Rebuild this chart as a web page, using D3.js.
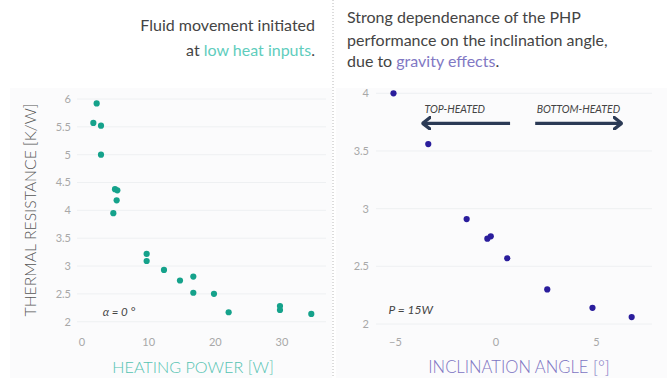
<!DOCTYPE html>
<html><head><meta charset="utf-8">
<script src="https://cdn.jsdelivr.net/npm/d3@7"></script>
<style>
body{margin:0;background:#fff;}
svg{display:block;font-family:Lato,"Open Sans",sans-serif;}
</style></head><body>
<svg id="c" width="667" height="378"></svg>
<script>
// Left panel: heating power [W] vs thermal resistance [K/W]
const powerW = [2.2,1.7,2.85,2.85,4.95,5.3,5.2,4.7,9.7,9.7,12.3,14.7,16.7,16.7,19.8,22.0,29.7,29.7,34.4];
const resistanceL = [5.92,5.57,5.52,5.0,4.38,4.36,4.18,3.95,3.22,3.09,2.93,2.74,2.81,2.52,2.50,2.17,2.28,2.21,2.14];
const leftXTicks = [0,10,20,30];
const leftYTicks = [2,2.5,3,3.5,4,4.5,5,5.5,6];
// Right panel: inclination angle [deg] vs thermal resistance
const angleDeg = [-5.1,-3.37,-1.46,-0.43,-0.26,0.56,2.55,4.8,6.75];
const resistanceR = [4.0,3.56,2.91,2.74,2.76,2.57,2.30,2.14,2.06];
const rightXTicks = [-5,0,5];
const rightYTicks = [2,2.5,3,3.5,4];

const svg = d3.select("#c");
const tickColor = "#a8a8a8", gridColor = "#eef0f2";

// faint plot backgrounds
svg.append("rect").attr("x",10).attr("y",88).attr("width",322).attr("height",290).attr("fill","#fbfbfc");
svg.append("rect").attr("x",336).attr("y",88).attr("width",331).attr("height",290).attr("fill","#fbfbfc");

// ---- Left panel
const xL = d3.scaleLinear().domain([0,35]).range([82,315.3]);
const yL = d3.scaleLinear().domain([2,6]).range([321.7,99]);
const gL = svg.append("g");
gL.selectAll("line.grid").data(leftYTicks).join("line")
  .attr("x1",77).attr("x2",326).attr("y1",d=>yL(d)).attr("y2",d=>yL(d))
  .attr("stroke",gridColor).attr("stroke-width",1);
gL.selectAll("text.yt").data(leftYTicks).join("text")
  .attr("x",71).attr("y",d=>yL(d)).attr("dy","0.35em").attr("text-anchor","end")
  .attr("font-size",11).attr("fill",tickColor).text(d=>d);
gL.selectAll("text.xt").data(leftXTicks).join("text")
  .attr("x",d=>xL(d)).attr("y",342).attr("dy","0.35em").attr("text-anchor","middle")
  .attr("font-size",11).attr("fill",tickColor).text(d=>d);
gL.selectAll("circle").data(powerW).join("circle")
  .attr("cx",d=>xL(d)).attr("cy",(d,i)=>yL(resistanceL[i])).attr("r",3.1).attr("fill","#15a28b");
gL.append("text").attr("x",xL(3.1)).attr("y",yL(2.18)).attr("dy","0.35em")
  .attr("font-size",11.5).attr("font-style","italic").attr("fill","#444").text("α = 0 °");
gL.append("text").attr("x",193).attr("y",367).attr("dy","0.35em").attr("text-anchor","middle")
  .attr("font-size",16.2).attr("font-weight",300).attr("fill","#55c3b2").text("HEATING POWER [W]");
gL.append("text").attr("transform","translate(30,210) rotate(-90)").attr("dy","0.35em").attr("text-anchor","middle")
  .attr("font-size",15.8).attr("font-weight",300).attr("fill","#555").text("THERMAL RESISTANCE [K/W]");
const hL = gL.append("text").attr("text-anchor","end").attr("font-size",16).attr("fill","#444");
hL.append("tspan").attr("x",315).attr("y",30.5).text("Fluid movement initiated");
const t2 = hL.append("tspan").attr("x",315).attr("y",55.5);
t2.append("tspan").text("at ");
t2.append("tspan").attr("fill","#5fcdbd").text("low heat inputs");
t2.append("tspan").text(".");

// divider
svg.append("line").attr("x1",333).attr("x2",333).attr("y1",0).attr("y2",378)
  .attr("stroke","#b8b8b8").attr("stroke-width",1).attr("stroke-dasharray","1,2");

// ---- Right panel
const xR = d3.scaleLinear().domain([-5,5]).range([395.5,596.5]);
const yR = d3.scaleLinear().domain([2,4]).range([324,93.3]);
const gR = svg.append("g");
gR.selectAll("line.grid").data(rightYTicks).join("line")
  .attr("x1",376).attr("x2",652).attr("y1",d=>yR(d)).attr("y2",d=>yR(d))
  .attr("stroke",gridColor).attr("stroke-width",1);
gR.selectAll("text.yt").data(rightYTicks).join("text")
  .attr("x",369).attr("y",d=>yR(d)).attr("dy","0.35em").attr("text-anchor","end")
  .attr("font-size",11).attr("fill",tickColor).text(d=>d);
gR.selectAll("text.xt").data(rightXTicks).join("text")
  .attr("x",d=>xR(d)).attr("y",342).attr("dy","0.35em").attr("text-anchor","middle")
  .attr("font-size",11).attr("fill",tickColor).text(d=>d<0?"−"+Math.abs(d):d);
gR.selectAll("circle").data(angleDeg).join("circle")
  .attr("cx",d=>xR(d)).attr("cy",(d,i)=>yR(resistanceR[i])).attr("r",3.1).attr("fill","#2a1d9c");
gR.append("text").attr("x",xR(-5.35)).attr("y",yR(2.12)).attr("dy","0.35em")
  .attr("font-size",12).attr("font-style","italic").attr("fill","#444").text("P = 15W");
gR.append("text").attr("x",519).attr("y",367).attr("dy","0.35em").attr("text-anchor","middle")
  .attr("font-size",16.6).attr("font-weight",300).attr("fill","#7d74c2").text("INCLINATION ANGLE [°]");

// arrows
const defs = svg.append("defs");
defs.append("marker").attr("id","ah").attr("viewBox","0 0 10 10").attr("refX",8.5).attr("refY",5)
  .attr("markerUnits","userSpaceOnUse").attr("markerWidth",10).attr("markerHeight",14).attr("orient","auto-start-reverse")
  .attr("preserveAspectRatio","none")
  .append("path").attr("d","M1,0.8 L8.5,5 L1,9.2").attr("fill","none").attr("stroke","#2b3a55").attr("stroke-width",2.6)
  .attr("stroke-linecap","round").attr("stroke-linejoin","round");
const ay = yR(3.74), ty = yR(3.86);
gR.append("line").attr("x1",xR(0.7)).attr("x2",xR(-3.65)).attr("y1",ay).attr("y2",ay)
  .attr("stroke","#2b3a55").attr("stroke-width",3.2).attr("marker-end","url(#ah)");
gR.append("line").attr("x1",xR(1.95)).attr("x2",xR(6.25)).attr("y1",ay).attr("y2",ay)
  .attr("stroke","#2b3a55").attr("stroke-width",3.2).attr("marker-end","url(#ah)");
gR.append("text").attr("x",xR(-2.05)).attr("y",ty).attr("dy","0.35em").attr("text-anchor","middle")
  .attr("font-size",10.5).attr("font-style","italic").attr("fill","#444").text("TOP-HEATED");
gR.append("text").attr("x",xR(4.1)).attr("y",ty).attr("dy","0.35em").attr("text-anchor","middle")
  .attr("font-size",10.5).attr("font-style","italic").attr("fill","#444").text("BOTTOM-HEATED");

const hR = gR.append("text").attr("font-size",16).attr("fill","#444");
hR.append("tspan").attr("x",347).attr("y",23).text("Strong dependenance of the PHP");
hR.append("tspan").attr("x",347).attr("y",46).text("performance on the inclination angle,");
const r3 = hR.append("tspan").attr("x",347).attr("y",67);
r3.append("tspan").text("due to ");
r3.append("tspan").attr("fill","#8178c4").text("gravity effects");
r3.append("tspan").text(".");
</script>
</body></html>
